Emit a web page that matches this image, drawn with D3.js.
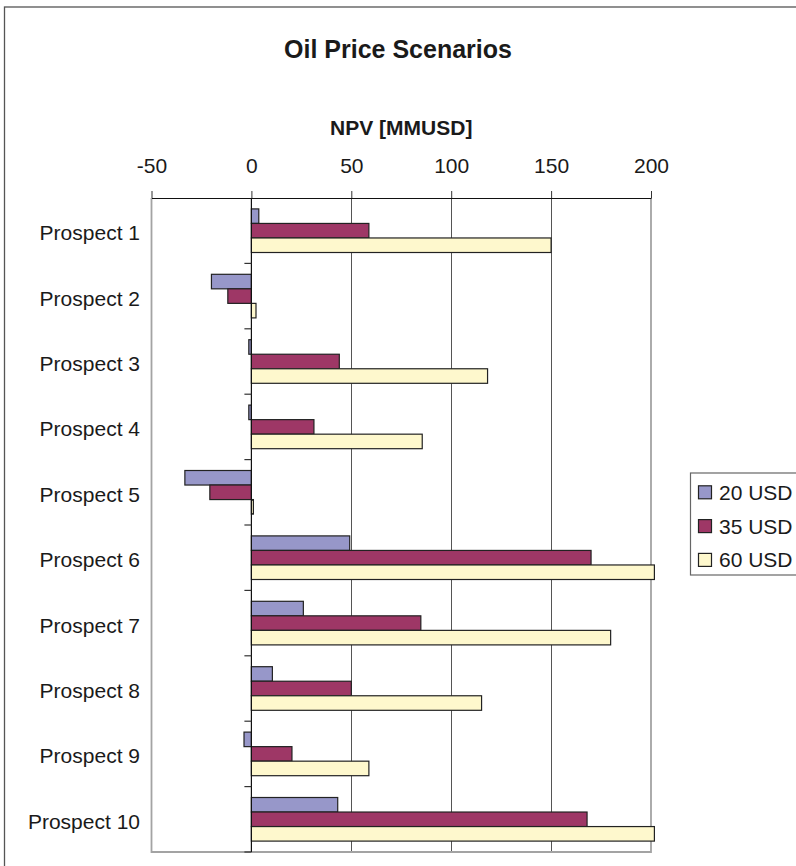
<!DOCTYPE html>
<html>
<head>
<meta charset="utf-8">
<script src="https://cdn.jsdelivr.net/npm/d3@7/dist/d3.min.js"></script>
<style>
  html, body { margin: 0; padding: 0; background: #fff; }
  svg { display: block; font-family: "Liberation Sans", Arial, Helvetica, sans-serif; }
</style>
</head>
<body>
<svg id="chart" width="796" height="866"></svg>
<script>
// NPV per prospect under three oil price scenarios (MMUSD)
const prospects = ["Prospect 1", "Prospect 2", "Prospect 3", "Prospect 4", "Prospect 5",
                   "Prospect 6", "Prospect 7", "Prospect 8", "Prospect 9", "Prospect 10"];
const scenarios = ["20 USD", "35 USD", "60 USD"];
const npv20 = [3.7, -20, -1.3, -1.3, -33.3, 49.2, 26, 10.5, -3.7, 43.2];
const npv35 = [58.8, -11.8, 44, 31.3, -20.8, 170, 84.8, 50, 20.3, 168];
const npv60 = [150, 2.3, 118.2, 85.5, 1, 201.7, 179.8, 115.2, 58.8, 201.7];
const xTicks = [-50, 0, 50, 100, 150, 200];
const scenarioColors = ["#9797C9", "#9E3766", "#FEF8CD"];

const seriesValues = [npv20, npv35, npv60];
const rows = prospects.map((p, i) => ({
  name: p,
  values: scenarios.map((s, j) => ({ key: s, value: seriesValues[j][i] }))
}));

const svg = d3.select("#chart");
const plot = { left: 151.5, right: 651, top: 198, bottom: 852 };

const x = d3.scaleLinear().domain([-50, 200]).range([plot.left, plot.right]);
const y = d3.scaleBand().domain(prospects).range([plot.top, plot.bottom]).padding(0);
const ySub = d3.scaleBand().domain(scenarios).range([0, y.bandwidth()])
  .paddingInner(0).paddingOuter(0.75);
const color = d3.scaleOrdinal().domain(scenarios).range(scenarioColors);

// Outer chart frame (extends past the visible area on right and bottom)
svg.append("rect")
  .attr("x", 4.5).attr("y", 7)
  .attr("width", 900).attr("height", 900)
  .attr("fill", "none").attr("stroke", "#555").attr("stroke-width", 1.3);

// Title and axis title
svg.append("text")
  .attr("x", 398).attr("y", 57.5)
  .attr("text-anchor", "middle")
  .attr("font-size", 25).attr("font-weight", "bold").attr("fill", "#1a1a1a")
  .text("Oil Price Scenarios");

svg.append("text")
  .attr("x", (plot.left + plot.right) / 2).attr("y", 134.5)
  .attr("text-anchor", "middle")
  .attr("font-size", 21).attr("font-weight", "bold").attr("fill", "#1a1a1a")
  .text("NPV [MMUSD]");

// Vertical gridlines at interior ticks
svg.append("g")
  .selectAll("line")
  .data(xTicks.filter(t => t !== 0 && t !== -50 && t !== 200))
  .join("line")
  .attr("x1", d => Math.round(x(d)) + 0.5).attr("x2", d => Math.round(x(d)) + 0.5)
  .attr("y1", plot.top).attr("y2", plot.bottom)
  .attr("stroke", "#555").attr("stroke-width", 1);

// Plot area border (left, bottom, right)
svg.append("path")
  .attr("d", `M${x(-50)},${plot.top}V${plot.bottom}H${x(200)}V${plot.top}`)
  .attr("fill", "none").attr("stroke", "#a3a3a3").attr("stroke-width", 1.8);

// Bars
const groups = svg.append("g")
  .selectAll("g")
  .data(rows)
  .join("g")
  .attr("transform", d => `translate(0,${y(d.name)})`);

groups.selectAll("rect")
  .data(d => d.values)
  .join("rect")
  .attr("x", d => x(Math.min(0, d.value)))
  .attr("y", d => ySub(d.key))
  .attr("width", d => Math.abs(x(d.value) - x(0)))
  .attr("height", ySub.bandwidth())
  .attr("fill", d => color(d.key))
  .attr("stroke", "#222").attr("stroke-width", 1.2);

// Top value axis (plain hyphen for negatives)
const xAxis = d3.axisTop(x).tickValues(xTicks).tickFormat(d => String(d))
  .tickSize(7).tickPadding(18).tickSizeOuter(0);
const gx = svg.append("g").attr("transform", `translate(0,${plot.top})`).call(xAxis);
gx.select(".domain").attr("stroke", "#111").attr("stroke-width", 1.2);
gx.selectAll(".tick line").attr("stroke", "#333");
gx.selectAll(".tick text")
  .attr("font-size", 21).attr("fill", "#1a1a1a")
  .attr("font-family", "'Liberation Sans', Arial, sans-serif");

// Category axis along zero, with ticks between categories
const zeroX = x(0);
svg.append("line")
  .attr("x1", zeroX).attr("x2", zeroX)
  .attr("y1", plot.top).attr("y2", plot.bottom)
  .attr("stroke", "#111").attr("stroke-width", 1.2);

const boundaries = prospects.map(p => y(p) + y.step());
svg.append("g")
  .selectAll("line")
  .data(boundaries)
  .join("line")
  .attr("x1", zeroX - 7).attr("x2", zeroX)
  .attr("y1", d => d).attr("y2", d => d)
  .attr("stroke", "#333").attr("stroke-width", 1.2);

// Category labels on the left
svg.append("g")
  .selectAll("text")
  .data(prospects)
  .join("text")
  .attr("x", plot.left - 11.5)
  .attr("y", d => y(d) + y.bandwidth() / 2 + 9.5)
  .attr("text-anchor", "end")
  .attr("font-size", 21).attr("fill", "#1a1a1a")
  .text(d => d);

// Legend
const legend = svg.append("g").attr("transform", "translate(690.5,473)");
legend.append("rect")
  .attr("x", 0).attr("y", 0).attr("width", 200).attr("height", 102)
  .attr("fill", "#fff").attr("stroke", "#666").attr("stroke-width", 1.2);

const items = legend.selectAll("g.item")
  .data(scenarios)
  .join("g")
  .attr("class", "item")
  .attr("transform", (d, i) => `translate(0,${19.3 + i * 33.8})`);

items.append("rect")
  .attr("x", 8).attr("y", -6.5).attr("width", 13).attr("height", 13)
  .attr("fill", d => color(d)).attr("stroke", "#222").attr("stroke-width", 1.2);

items.append("text")
  .attr("x", 28.5).attr("y", 7.5)
  .attr("font-size", 21).attr("fill", "#1a1a1a")
  .text(d => d);
</script>
</body>
</html>
